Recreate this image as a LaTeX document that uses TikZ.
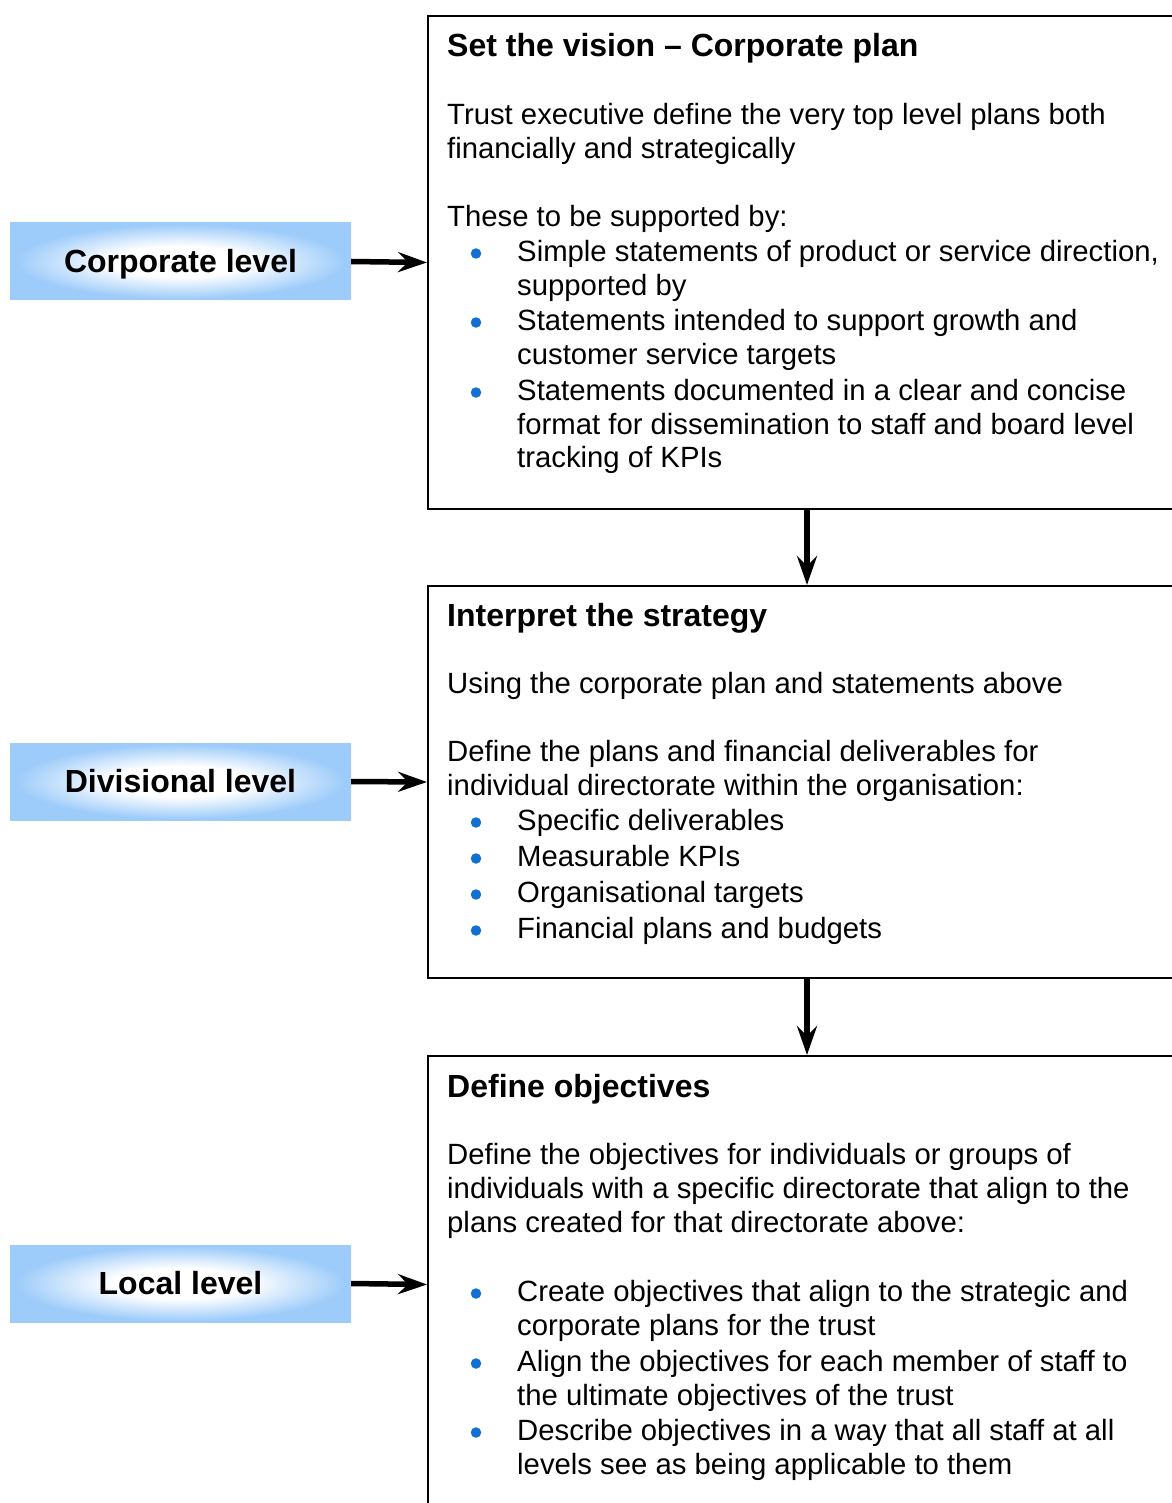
\documentclass[tikz,border=0pt]{standalone}
\usepackage{fontspec}
\setmainfont{Liberation Sans}
\usetikzlibrary{arrows.meta}
\definecolor{lblue}{RGB}{158,204,250}
\definecolor{bulletblue}{RGB}{18,112,210}
\pgfdeclareradialshading{lblshade}{\pgfpoint{0bp}{0bp}}{color(0bp)=(white); color(10bp)=(white); color(24bp)=(lblue); color(50bp)=(lblue)}
\begin{document}
\begin{tikzpicture}[x=1pt,y=-1pt,
  body/.style={anchor=base west, inner sep=0pt, yshift=-1.5pt, font=\fontsize{29.3}{34.5}\selectfont},
  ttl/.style={anchor=base west, inner sep=0pt, yshift=-1pt, font=\fontsize{32}{36}\selectfont\bfseries},
  lvl/.style={shade, shading=lblshade, minimum width=341pt, minimum height=77pt, inner sep=0pt, text height=22.5pt, text depth=0pt, font=\fontsize{32}{36}\selectfont\bfseries},
  panel/.style={draw, line width=2pt, anchor=north west, minimum width=758pt, inner sep=0pt},
  conn/.style={line width=5.5pt, -{Stealth[length=29pt,width=20pt,inset=10pt]}},
  dot/.style={circle, fill=bulletblue, inner sep=0pt, minimum size=10.5pt, yshift=-1.5pt}
]
\useasboundingbox (0,0) rectangle (1171,1503);

% panels
\node[panel, minimum height=493pt] (box1) at (427,15) {};
\node[panel, minimum height=392pt] (box2) at (427,585) {};
\node[panel, minimum height=457pt] (box3) at (427,1055) {};

% level labels
\node[lvl] (lbl1) at (180.5,261.5) {Corporate level};
\node[lvl] (lbl2) at (180.5,781.5) {Divisional level};
\node[lvl] (lbl3) at (180.5,1283.5) {Local level};

% connectors
\draw[conn] (lbl1.east) -- (box1.west);
\draw[conn] (lbl2.east) -- (box2.west);
\draw[conn] (lbl3.east) -- (box3.west);
\draw[conn] (box1.south) -- (box2.north);
\draw[conn] (box2.south) -- (box3.north);

% box 1 text
\node[ttl] (a0) at (447,56) {Set the vision – Corporate plan};
\node[body] (a1) at (447,123) {Trust executive define the very top level plans both};
\node[body] (a2) at (447,157) {financially and strategically};
\node[body] (a3) at (447,225) {These to be supported by:};
\node[dot] (ad1) at (476,252) {};
\node[body] (a4) at (517,260) {Simple statements of product or service direction,};
\node[body] (a5) at (517,294) {supported by};
\node[dot] (ad2) at (476,321) {};
\node[body] (a6) at (517,329) {Statements intended to support growth and};
\node[body] (a7) at (517,363) {customer service targets};
\node[dot] (ad3) at (476,391) {};
\node[body] (a8) at (517,399) {Statements documented in a clear and concise};
\node[body] (a9) at (517,433) {format for dissemination to staff and board level};
\node[body] (a10) at (517,466) {tracking of KPIs};

% box 2 text
\node[ttl] (b0) at (447,625) {Interpret the strategy};
\node[body] (b1) at (447,692) {Using the corporate plan and statements above};
\node[body] (b2) at (447,760) {Define the plans and financial deliverables for};
\node[body] (b3) at (447,794) {individual directorate within the organisation:};
\node[dot] (bd1) at (476,821) {};
\node[body] (b4) at (517,829) {Specific deliverables};
\node[dot] (bd2) at (476,857) {};
\node[body] (b5) at (517,865) {Measurable KPIs};
\node[dot] (bd3) at (476,893) {};
\node[body] (b6) at (517,901) {Organisational targets};
\node[dot] (bd4) at (476,929) {};
\node[body] (b7) at (517,937) {Financial plans and budgets};

% box 3 text
\node[ttl] (c0) at (447,1096) {Define objectives};
\node[body] (c1) at (447,1163) {Define the objectives for individuals or groups of};
\node[body] (c2) at (447,1197) {individuals with a specific directorate that align to the};
\node[body] (c3) at (447,1231) {plans created for that directorate above:};
\node[dot] (cd1) at (476,1292) {};
\node[body] (c4) at (517,1300) {Create objectives that align to the strategic and};
\node[body] (c5) at (517,1334) {corporate plans for the trust};
\node[dot] (cd2) at (476,1362) {};
\node[body] (c6) at (517,1370) {Align the objectives for each member of staff to};
\node[body] (c7) at (517,1404) {the ultimate objectives of the trust};
\node[dot] (cd3) at (476,1431) {};
\node[body] (c8) at (517,1439) {Describe objectives in a way that all staff at all};
\node[body] (c9) at (517,1473) {levels see as being applicable to them};
\end{tikzpicture}
\end{document}
